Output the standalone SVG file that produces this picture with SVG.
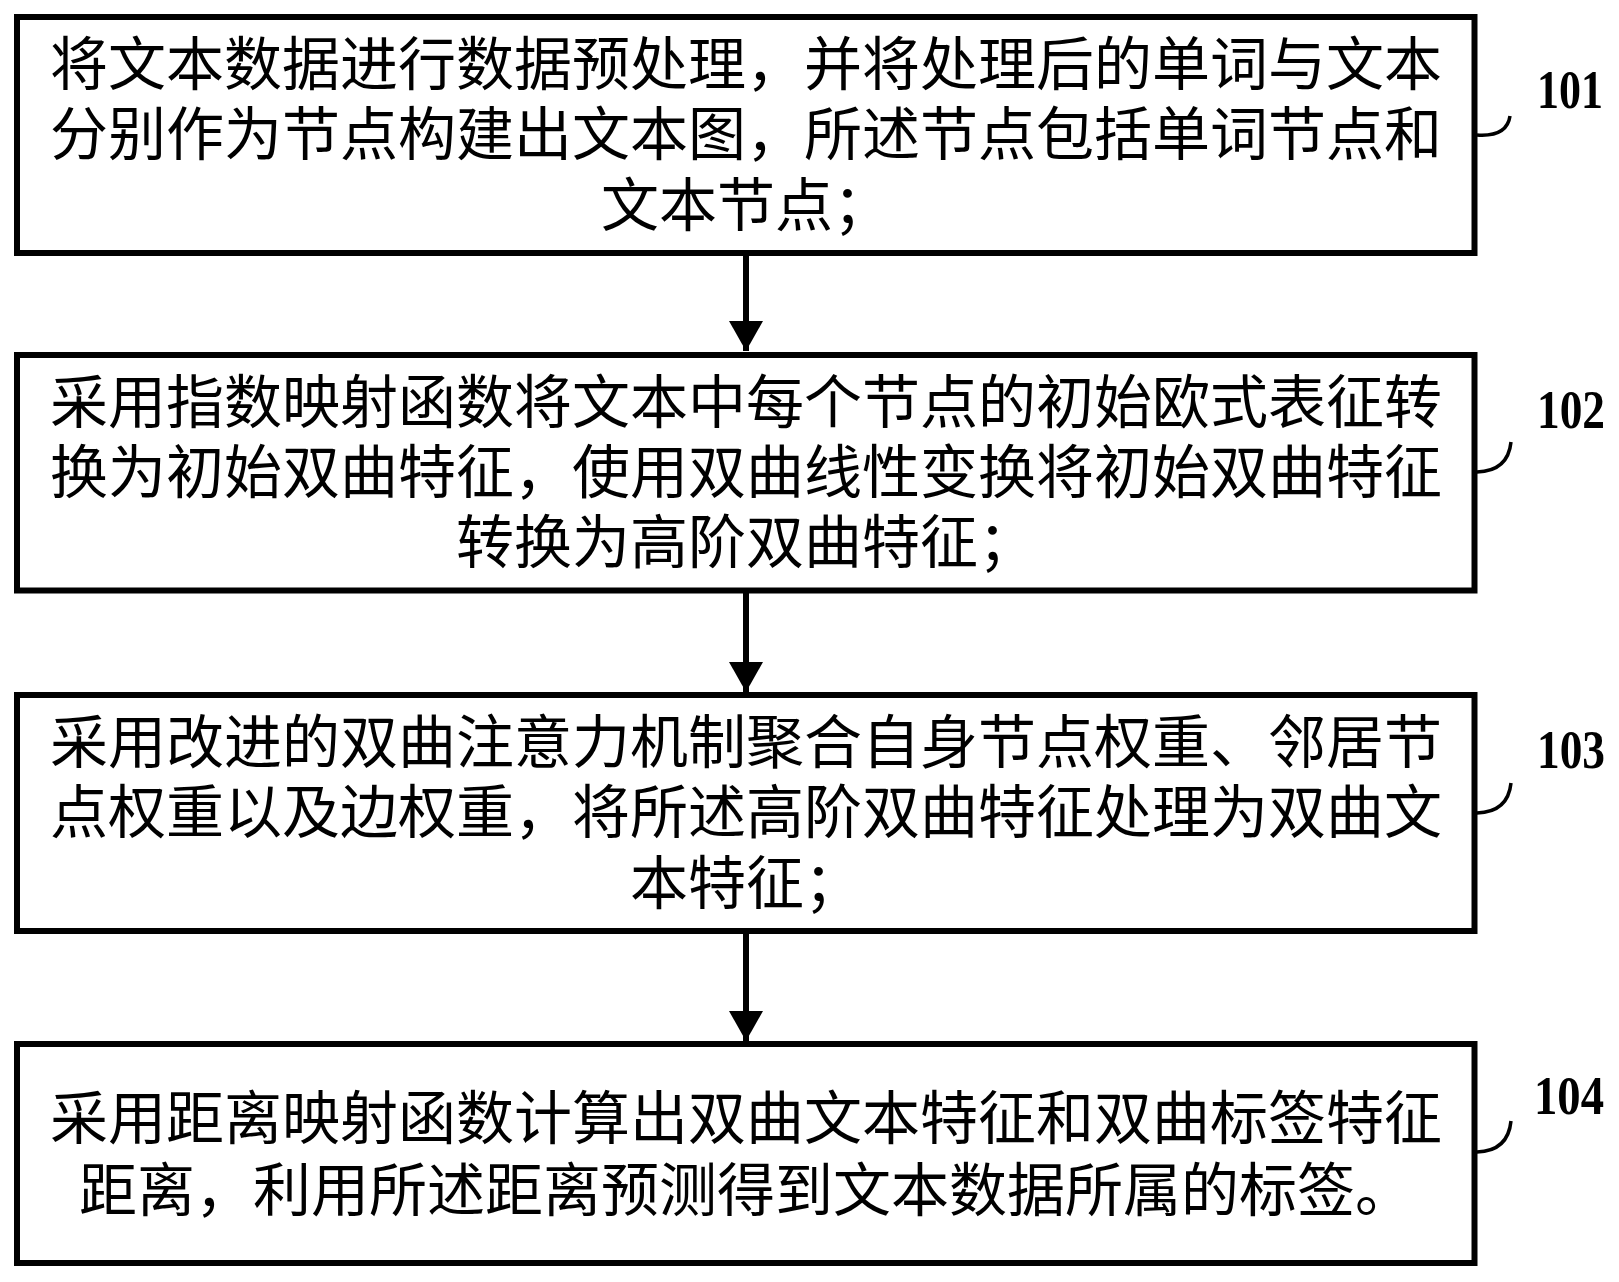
<svg xmlns="http://www.w3.org/2000/svg" width="1619" height="1282" viewBox="0 0 1619 1282">
<style>
.box{fill:#fff;stroke:#000;stroke-width:6}
.t{font-family:"Noto Sans CJK SC","Noto Sans CJK JP",sans-serif;font-size:58px;fill:#000;text-anchor:middle}
.lbl{font-family:"Liberation Serif","Times New Roman",serif;font-size:54px;font-weight:bold;fill:#000}
.hook{fill:none;stroke:#000;stroke-width:3.5}
.conn{stroke:#000;stroke-width:6;fill:none}
</style>
<defs>
<marker id="arr" markerUnits="userSpaceOnUse" markerWidth="30" markerHeight="34" refX="30" refY="17" orient="auto" viewBox="0 0 30 34">
<path d="M0,0 L30,17 L0,34 Z" fill="#000"/>
</marker>
</defs>
<rect width="1619" height="1282" fill="#fff"/>
<g id="connectors">
<line class="conn" x1="746" y1="253" x2="746" y2="351" marker-end="url(#arr)"/>
<line class="conn" x1="746" y1="590" x2="746" y2="692" marker-end="url(#arr)"/>
<line class="conn" x1="746" y1="931" x2="746" y2="1041" marker-end="url(#arr)"/>
</g>
<g id="node101">
<rect class="box" x="17" y="17" width="1457.5" height="236"/>
<text class="t"><tspan x="746" y="85">将文本数据进行数据预处理，并将处理后的单词与文本</tspan><tspan x="746" y="155">分别作为节点构建出文本图，所述节点包括单词节点和</tspan><tspan x="746" y="226">文本节点；</tspan></text>
<path class="hook" d="M1477,135 Q1507,137 1510,116"/>
<text class="lbl" x="1537" y="108" textLength="66" lengthAdjust="spacingAndGlyphs">101</text>
</g>
<g id="node102">
<rect class="box" x="17" y="355" width="1457.5" height="235.5"/>
<text class="t"><tspan x="746" y="423">采用指数映射函数将文本中每个节点的初始欧式表征转</tspan><tspan x="746" y="493">换为初始双曲特征，使用双曲线性变换将初始双曲特征</tspan><tspan x="746" y="563">转换为高阶双曲特征；</tspan></text>
<path class="hook" d="M1477,472 Q1508,471 1511,442"/>
<text class="lbl" x="1537" y="428" textLength="68" lengthAdjust="spacingAndGlyphs">102</text>
</g>
<g id="node103">
<rect class="box" x="17" y="695" width="1457.5" height="236"/>
<text class="t"><tspan x="746" y="763">采用改进的双曲注意力机制聚合自身节点权重、邻居节</tspan><tspan x="746" y="833">点权重以及边权重，将所述高阶双曲特征处理为双曲文</tspan><tspan x="746" y="904">本特征；</tspan></text>
<path class="hook" d="M1477,813 Q1508,812 1511,783"/>
<text class="lbl" x="1537" y="768" textLength="68" lengthAdjust="spacingAndGlyphs">103</text>
</g>
<g id="node104">
<rect class="box" x="17" y="1044" width="1457.5" height="219"/>
<text class="t"><tspan x="746" y="1139">采用距离映射函数计算出双曲文本特征和双曲标签特征</tspan><tspan x="746" y="1211">距离，利用所述距离预测得到文本数据所属的标签。</tspan></text>
<path class="hook" d="M1477,1152 Q1508,1151 1511,1121"/>
<text class="lbl" x="1534" y="1114" textLength="70" lengthAdjust="spacingAndGlyphs">104</text>
</g>
</svg>
